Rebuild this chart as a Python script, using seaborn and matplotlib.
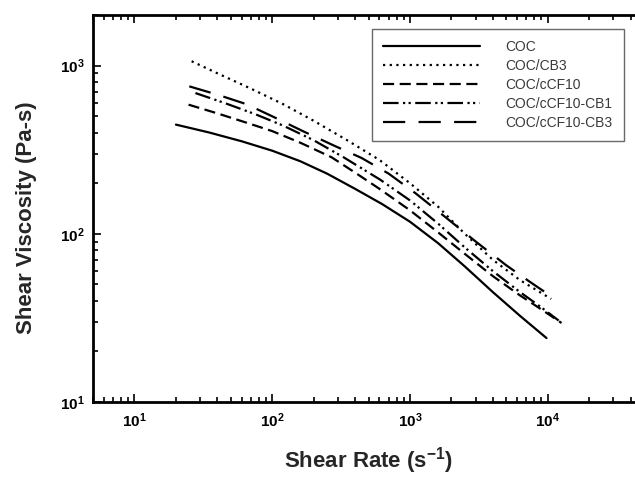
import numpy as np
import pandas as pd
import matplotlib
matplotlib.use("Agg")
import matplotlib.pyplot as plt
import seaborn as sns
from matplotlib.ticker import LogLocator, FixedLocator

sns.set_theme(style="ticks")
plt.rcParams['font.family'] = ['Liberation Sans', 'DejaVu Sans']
plt.rcParams['mathtext.fontset'] = 'custom'
plt.rcParams['mathtext.rm'] = 'Liberation Sans'
plt.rcParams['mathtext.bf'] = 'Liberation Sans:bold'

series_names = ["COC", "COC/CB3", "COC/cCF10", "COC/cCF10-CB1", "COC/cCF10-CB3"]

coc_x = [20, 35, 60, 100, 160, 250, 400, 630, 1000, 1600, 2500, 4000, 6300, 9800]
coc_y = [446, 400, 355, 312, 270, 228, 185, 150, 118, 88, 64, 45, 32.5, 24]

cb3_x = [26, 40, 70, 120, 200, 350, 600, 1000, 1600, 2500, 4000, 6300, 10600]
cb3_y = [1062, 900, 730, 590, 470, 360, 275, 200, 145, 100, 70, 53, 41]

ccf10_x = [24.7, 40, 65, 100, 160, 270, 420, 607, 1000, 1600, 2500, 4000, 6300, 9000, 12600]
ccf10_y = [586, 520, 458, 408, 348, 285, 225, 184, 138, 102, 76, 56, 43, 35.5, 29.5]

ccf10cb1_x = [27.7, 45, 75, 120, 200, 330, 607, 1000, 1600, 2500, 4000, 6300, 9000, 12000]
ccf10cb1_y = [687, 600, 515, 440, 360, 285, 210, 158, 115, 83, 60, 45, 36.5, 30.5]

ccf10cb3_x = [25, 40, 65, 103, 170, 280, 447, 700, 1100, 1800, 3000, 5000, 7500, 10600]
ccf10cb3_y = [753, 672, 590, 494, 405, 335, 282, 228, 174, 126, 90, 65, 51.5, 42.5]

xs = [coc_x, cb3_x, ccf10_x, ccf10cb1_x, ccf10cb3_x]
ys = [coc_y, cb3_y, ccf10_y, ccf10cb1_y, ccf10cb3_y]
styles = ['-', (0, (1, 2)), (0, (5, 2.5)), (0, (7, 2, 1, 1.5, 1, 2)), (0, (10, 6))]

fig = plt.figure(figsize=(6.35, 4.79), dpi=100)
ax = fig.add_axes([93/635, 1 - 402/479, (644 - 93)/635, (402 - 15)/479])

for name, x, y, ls in zip(series_names, xs, ys, styles):
    df = pd.DataFrame({"x": x, "y": y})
    sns.lineplot(data=df, x="x", y="y", ax=ax, color="black", linewidth=1.6,
                 linestyle=ls, label=name, sort=False)

ax.set_xscale("log")
ax.set_yscale("log")
ax.set_xlim(5, 5e4)
ax.set_ylim(10, 2000)

ax.xaxis.set_major_locator(FixedLocator([10, 100, 1000, 10000]))
ax.yaxis.set_major_locator(FixedLocator([10, 100, 1000]))
ax.xaxis.set_minor_locator(LogLocator(base=10, subs=np.arange(2, 10)))
ax.yaxis.set_minor_locator(LogLocator(base=10, subs=np.arange(2, 10)))
ax.set_xticklabels([r"$\mathbf{10^{1}}$", r"$\mathbf{10^{2}}$", r"$\mathbf{10^{3}}$", r"$\mathbf{10^{4}}$"])
ax.set_yticklabels([r"$\mathbf{10^{1}}$", r"$\mathbf{10^{2}}$", r"$\mathbf{10^{3}}$"])

ax.tick_params(which="both", direction="in", top=True, right=True, width=1.2, colors="black")
ax.tick_params(which="major", length=6, labelsize=11)
ax.tick_params(axis="x", which="major", pad=7)
ax.tick_params(axis="y", which="major", pad=6)
ax.tick_params(which="minor", length=3.5)
for s in ax.spines.values():
    s.set_linewidth(2)
    s.set_color("black")

ax.set_xlabel(r"Shear Rate (s$^{\mathbf{-1}}$)", fontsize=16, fontweight="bold")
ax.set_ylabel("Shear Viscosity (Pa-s)", fontsize=16, fontweight="bold")
ax.xaxis.set_label_coords(0.5, (402 - 445) / 387)
ax.yaxis.set_label_coords((37 - 93) / 551, 0.475)

leg = ax.legend(loc="upper left", bbox_to_anchor=(372/635, 1 - 29/479),
                bbox_transform=fig.transFigure, frameon=True, fancybox=False,
                fontsize=10, handlelength=7.0, handletextpad=1.8, labelspacing=0.36,
                borderpad=0.8, borderaxespad=0, edgecolor="#444444")
leg.get_frame().set_linewidth(1.0)
for t in leg.get_texts():
    t.set_color("#3a3a3a")

fig.savefig("out.png", dpi=100, facecolor="white")
